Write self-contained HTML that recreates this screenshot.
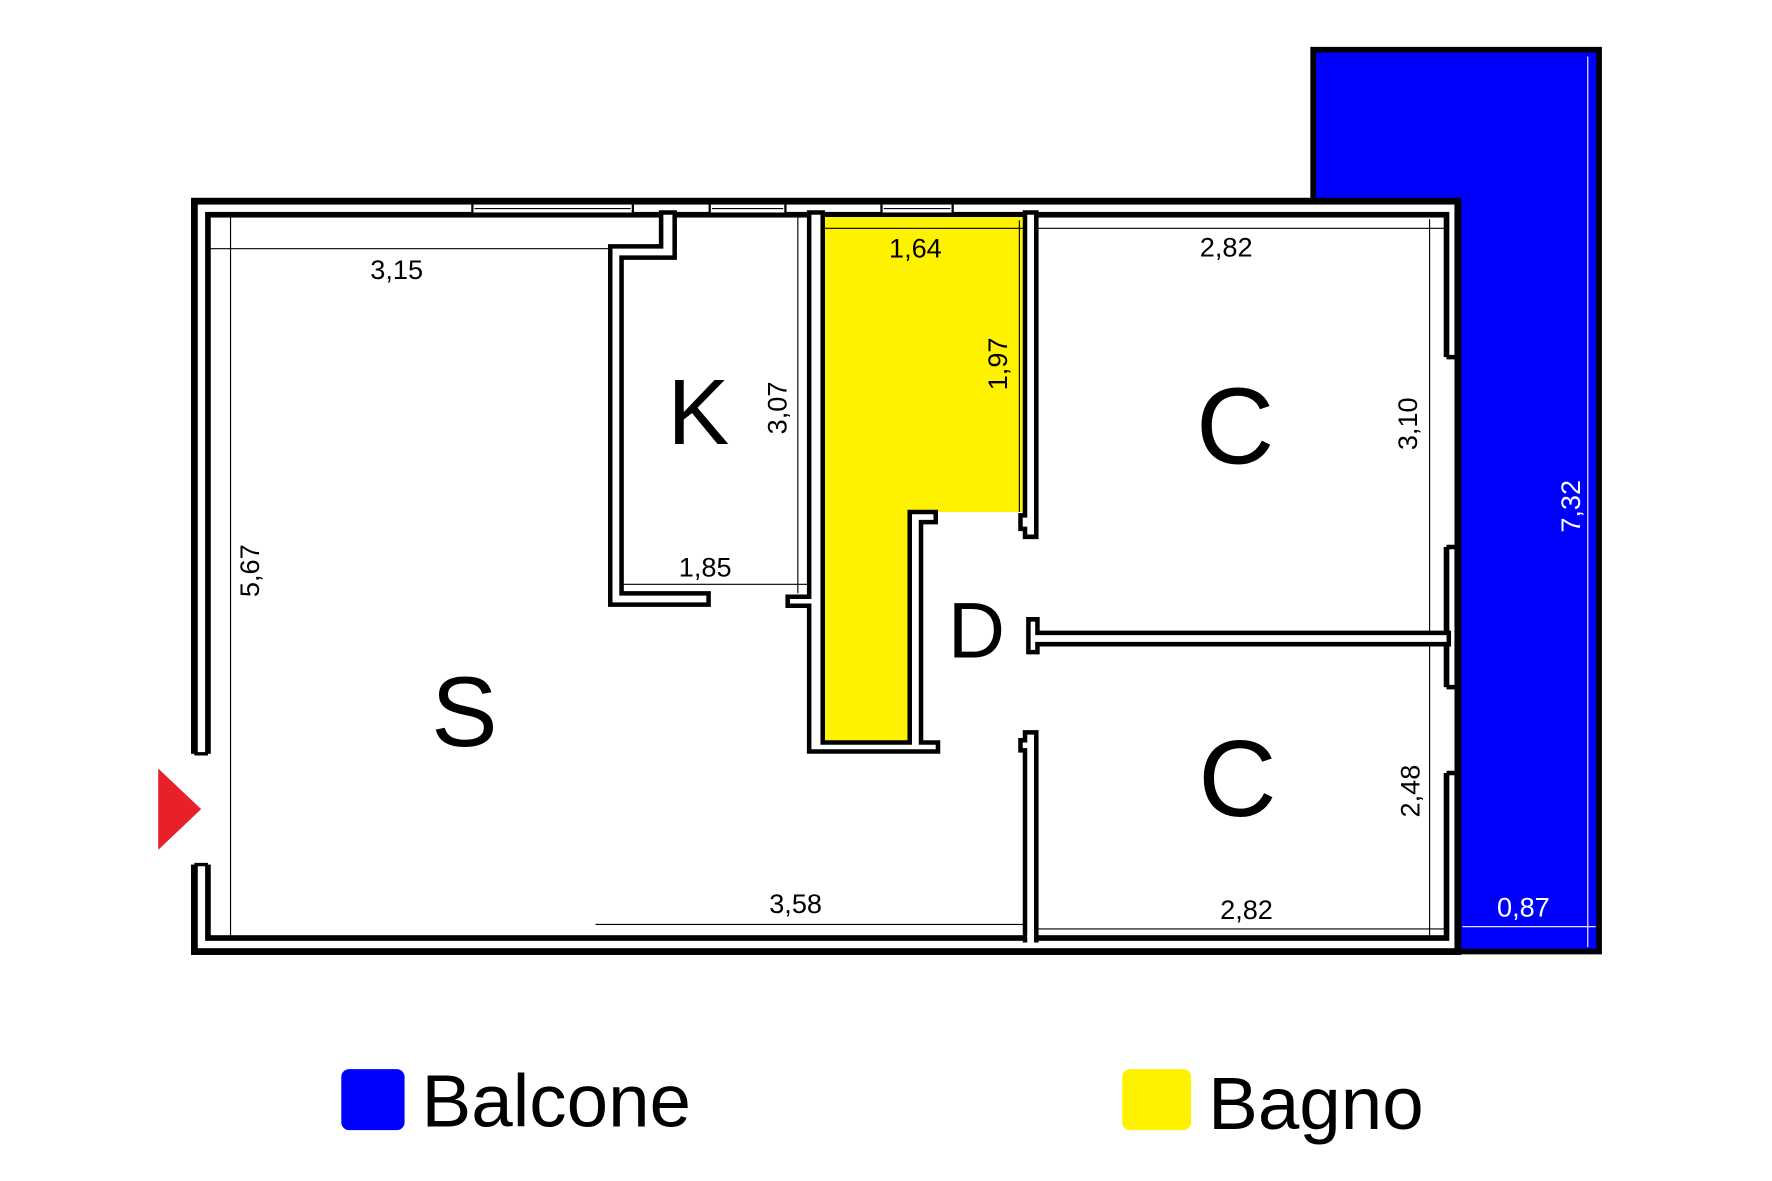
<!DOCTYPE html>
<html><head><meta charset="utf-8"><style>html,body{margin:0;padding:0;background:#fff}svg{display:block}text{font-family:"Liberation Sans",sans-serif}</style></head><body>
<svg width="1772" height="1181" viewBox="0 0 1568 1045" preserveAspectRatio="none">
<rect width="1568" height="1045" fill="#fff"/>
<!-- balcony -->
<polygon points="1162,44 1415,44 1415,842 1290,842 1290,178 1162,178" fill="#0000ff" stroke="#000" stroke-width="5"/>
<line x1="1405" y1="50" x2="1405" y2="838" stroke="#fff" stroke-width="1"/>
<line x1="1294" y1="820" x2="1412" y2="820" stroke="#fff" stroke-width="1"/>
<!-- outer walls -->
<rect x="172" y="178" width="1118" height="664" fill="#fff" stroke="#000" stroke-width="6"/>
<rect x="184" y="190" width="1096" height="640" fill="#fff" stroke="#000" stroke-width="5"/>
<!-- door gap left -->
<rect x="168" y="667" width="22" height="98" fill="#fff"/>
<line x1="172" y1="667" x2="184" y2="667" stroke="#000" stroke-width="3"/>
<line x1="172" y1="765" x2="184" y2="765" stroke="#000" stroke-width="3"/>
<!-- windows top -->
<g fill="#fff" stroke="#000" stroke-width="2">
<rect x="418" y="180" width="142" height="9"/><rect x="628" y="180" width="67" height="9"/><rect x="780" y="180" width="63" height="9"/>
</g>
<g stroke="#000" stroke-width="1"><line x1="420" y1="184.5" x2="558" y2="184.5"/><line x1="630" y1="184.5" x2="693" y2="184.5"/><line x1="782" y1="184.5" x2="841" y2="184.5"/></g>
<!-- right wall windows -->
<rect x="1277" y="316" width="10" height="168" fill="#fff"/>
<rect x="1277" y="608" width="10" height="76" fill="#fff"/>
<g stroke="#000" stroke-width="4"><line x1="1280" y1="316" x2="1292" y2="316"/><line x1="1280" y1="484" x2="1292" y2="484"/><line x1="1280" y1="608" x2="1292" y2="608"/><line x1="1280" y1="684" x2="1292" y2="684"/></g>
<!-- yellow bath -->
<polygon points="728,192 905,192 905,453 815,453 815,657 728,657" fill="#fff200"/>
<!-- dimension lines -->
<g stroke="#000" stroke-width="1" fill="none">
<line x1="182" y1="220" x2="590" y2="220"/>
<line x1="204" y1="192" x2="204" y2="828"/>
<line x1="728" y1="202" x2="905" y2="202"/>
<line x1="917" y1="202" x2="1278" y2="202"/>
<line x1="1265" y1="194" x2="1265" y2="828"/>
<line x1="550" y1="517" x2="716" y2="517"/>
<line x1="706" y1="192" x2="706" y2="525"/>
<line x1="527" y1="818" x2="907" y2="818"/>
<line x1="917" y1="822" x2="1278" y2="822"/>
<line x1="902" y1="195" x2="902" y2="453"/>
</g>
<!-- interior walls -->
<g fill="#fff" stroke="#000" stroke-width="4">
<polygon points="585,188 597,188 597,228 550,228 550,525 627,525 627,535 540,535 540,218 585,218"/>
<polygon points="716,188 728,188 728,657 805,657 805,453 828,453 828,462 815,462 815,657 830,657 830,665 716,665 716,536 697,536 697,528 716,528"/>
<polygon points="907,188 917,188 917,475 907,475 907,468 903,468 903,456 907,456"/>
<polygon points="907,832 917,832 917,648 907,648 907,655 903,655 903,664 907,664"/>
<polygon points="910,548 918,548 918,560 1282,560 1282,570 918,570 918,577 910,577"/>
</g>
<rect x="909" y="826" width="6" height="8" fill="#fff"/>
<!-- red arrow -->
<polygon points="140,680 178,716 140,752" fill="#e8202a"/>
<!-- labels -->
<g fill="#000">
<text x="618" y="393" font-size="82" text-anchor="middle">K</text>
<text x="411" y="660" font-size="88" text-anchor="middle">S</text>
<text x="1093" y="410" font-size="96" text-anchor="middle">C</text>
<text x="1095" y="722" font-size="96" text-anchor="middle">C</text>
<text x="864" y="582" font-size="70" text-anchor="middle">D</text>
<g font-size="24" text-anchor="middle">
<text x="351" y="247">3,15</text>
<text x="810" y="228">1,64</text>
<text x="1085" y="227">2,82</text>
<text x="624" y="510">1,85</text>
<text x="704" y="808">3,58</text>
<text x="1103" y="813">2,82</text>
<text transform="translate(229,505) rotate(-90)">5,67</text>
<text transform="translate(696,361) rotate(-90)">3,07</text>
<text transform="translate(891,322) rotate(-90)">1,97</text>
<text transform="translate(1254,375) rotate(-90)">3,10</text>
<text transform="translate(1256,700) rotate(-90)">2,48</text>
</g>
<text x="1348" y="811" font-size="24" text-anchor="middle" fill="#fff">0,87</text>
<text transform="translate(1398,448) rotate(-90)" font-size="24" text-anchor="middle" fill="#fff">7,32</text>
</g>
<!-- legend -->
<rect x="302" y="946" width="56" height="54" rx="7" fill="#0000ff"/>
<text x="373" y="997" font-size="66" fill="#000">Balcone</text>
<rect x="993" y="946" width="61" height="54" rx="7" fill="#fff200"/>
<text x="1069" y="999" font-size="66" fill="#000">Bagno</text>
</svg>
</body></html>
